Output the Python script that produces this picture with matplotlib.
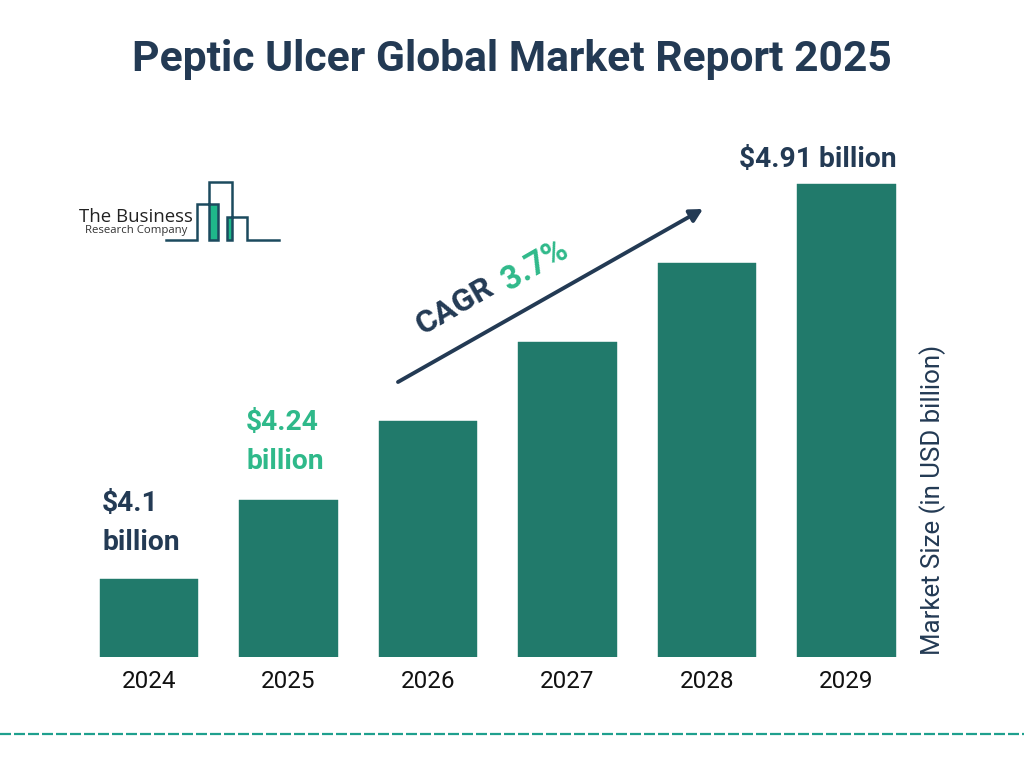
import matplotlib
matplotlib.use("Agg")
import matplotlib.pyplot as plt
from matplotlib.patches import Rectangle

plt.rcParams['font.family'] = ['Roboto', 'DejaVu Sans']

NAVY = "#233a54"
BAR = "#217a6b"
GREEN = "#2fb98a"
LOGO = "#1c4a5e"

years = ["2024", "2025", "2026", "2027", "2028", "2029"]
market_size = [4.10, 4.262, 4.424, 4.586, 4.748, 4.91]

fig = plt.figure(figsize=(10.24, 7.68), dpi=100, facecolor="white")

# bars
ax = fig.add_axes([79.25 / 1024, (768 - 657.3) / 768, 837 / 1024, 520 / 768])
ax.bar(range(len(years)), market_size, width=0.705, bottom=0, color=BAR,
       edgecolor=BAR, linewidth=0.3)
ax.set_xlim(-0.5, 5.5)
ax.set_ylim(3.94, 3.94 + 520 / 487.6)
ax.set_xticks(range(len(years)))
ax.set_xticklabels(years, fontsize=17.5, color="#111111")
ax.tick_params(axis="x", length=0, pad=9)
ax.set_yticks([])
for s in ax.spines.values():
    s.set_visible(False)
ax.patch.set_alpha(0)

# everything else is placed in pixel coordinates
ov = fig.add_axes([0, 0, 1, 1])
ov.set_xlim(0, 1024)
ov.set_ylim(768, 0)
ov.axis("off")
ov.patch.set_alpha(0)

ov.text(512, 59, "Peptic Ulcer Global Market Report 2025", fontsize=30.7, fontweight="bold",
        color=NAVY, ha="center", va="center")

ov.text(102, 523, "$4.1\nbillion", fontsize=20.3, fontweight="bold", color=NAVY,
        ha="left", va="center", linespacing=1.55)
ov.text(246, 442, "$4.24\nbillion", fontsize=20.3, fontweight="bold", color=GREEN,
        ha="left", va="center", linespacing=1.55)
ov.text(818, 160, "$4.91 billion", fontsize=20.3, fontweight="bold", color=NAVY,
        ha="center", va="center")

# CAGR arrow
ov.annotate("", xy=(703, 209), xytext=(398, 382),
            arrowprops=dict(arrowstyle="-|>,head_length=0.75,head_width=0.4", color=NAVY, lw=2.8,
                            shrinkA=0, shrinkB=0))
ov.text(455, 306, "CAGR", fontsize=23, fontweight="bold", color=NAVY, rotation=30,
        rotation_mode="anchor", ha="center", va="center")
ov.text(535, 265, "3.7%", fontsize=23.5, fontweight="bold", color=GREEN, rotation=30,
        rotation_mode="anchor", ha="center", va="center")

ov.text(933, 500, "Market Size (in USD billion)", fontsize=18.6, color=NAVY, rotation=90,
        ha="center", va="center")

# logo
ov.add_patch(Rectangle((209, 204), 9, 36, facecolor="#1fb88a", edgecolor="none"))
ov.add_patch(Rectangle((227, 217), 5, 23, facecolor="#1fb88a", edgecolor="none"))
sky_x = [166, 197, 197, 218, 218, 209, 209, 232, 232, 227, 227, 247, 247, 279]
sky_y = [240, 240, 204, 204, 240, 240, 182, 182, 240, 240, 217, 217, 240, 240]
ov.plot(sky_x, sky_y, color=LOGO, lw=1.8, solid_joinstyle="miter")
ov.text(79, 217, "The Business", fontsize=13.4, color="#222222", family="Open Sans",
        ha="left", va="center")
ov.text(85, 231, "Research Company", fontsize=8.2, color="#333333", family="Open Sans",
        ha="left", va="center")

# dashed rule at the bottom
ov.plot([0, 1024], [734, 734], color="#1fa08e", lw=1.6, linestyle=(0, (4.95, 1.35)),
        dash_capstyle="butt")

fig.savefig("out.png", dpi=100, facecolor="white")
plt.close(fig)
